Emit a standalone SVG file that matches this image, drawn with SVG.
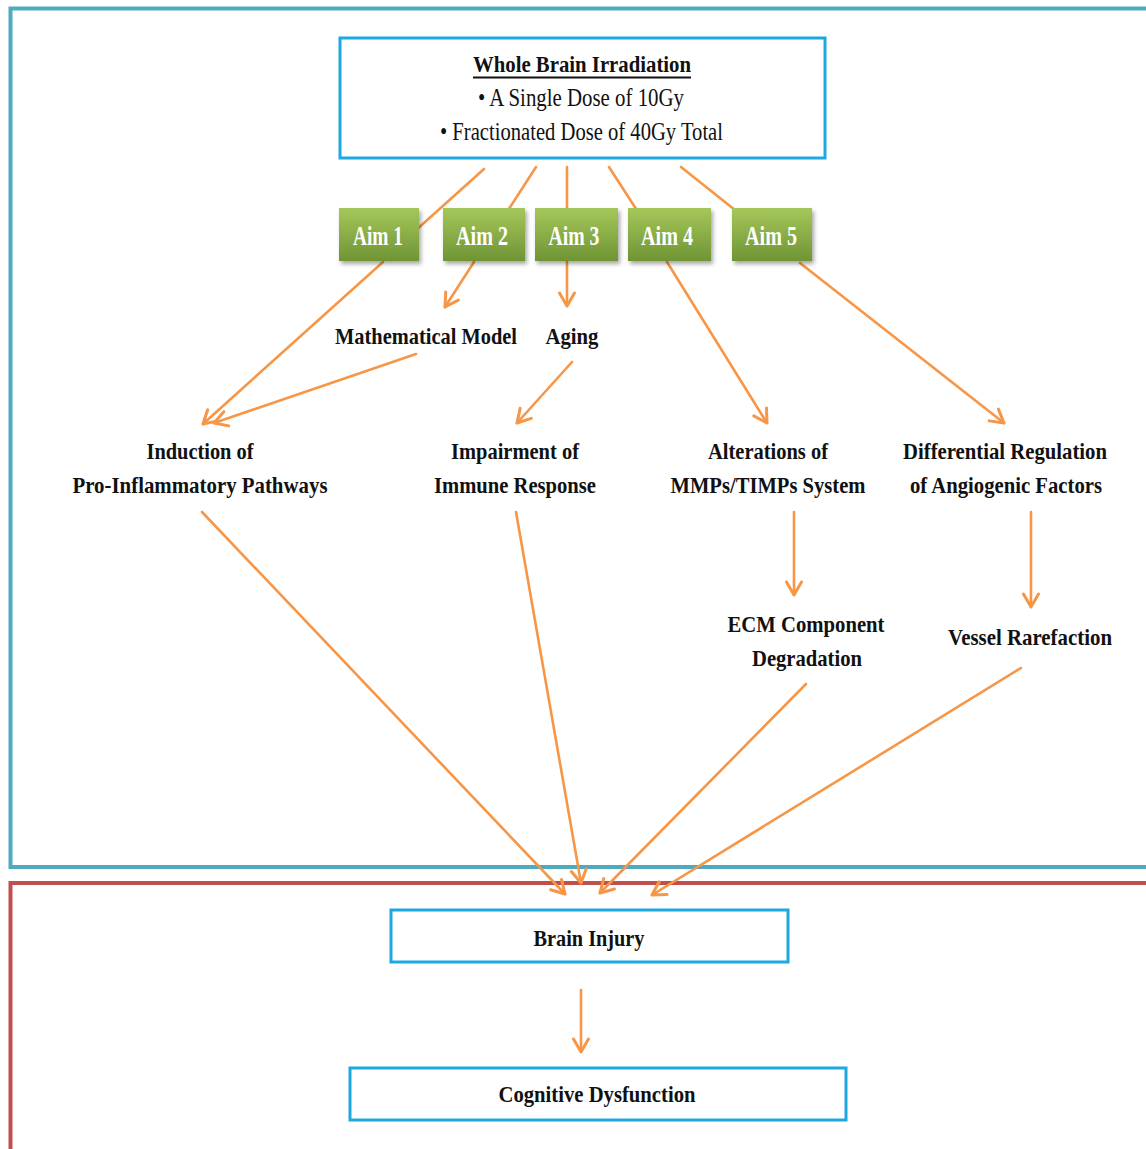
<svg xmlns="http://www.w3.org/2000/svg" width="1146" height="1149" viewBox="0 0 1146 1149">
<defs>
<linearGradient id="green" x1="0" y1="0" x2="0" y2="1">
<stop offset="0" stop-color="#a5c75a"/>
<stop offset="1" stop-color="#6f9434"/>
</linearGradient>
<filter id="sh" x="-20%" y="-20%" width="150%" height="160%">
<feDropShadow dx="2" dy="3" stdDeviation="2" flood-color="#000" flood-opacity="0.35"/>
</filter>
<marker id="ah" markerUnits="userSpaceOnUse" markerWidth="30" markerHeight="30" viewBox="-15 -15 30 30" refX="0" refY="0" orient="auto">
<path d="M-13,-7.5 L0,0 L-13,7.5" fill="none" stroke="#f79646" stroke-width="3" stroke-linecap="round" stroke-linejoin="round"/>
</marker>
<style>
.frame{fill:none;stroke-width:4}
.box{fill:#fff;stroke:#1da8e0;stroke-width:3}
.aim{fill:url(#green);filter:url(#sh)}
.t{font-family:"Liberation Serif","Times New Roman",serif;font-weight:bold;font-size:24px;fill:#111;text-anchor:middle}
.r{font-family:"Liberation Serif","Times New Roman",serif;font-size:25px;fill:#111;text-anchor:middle}
.at{font-family:"Liberation Serif","Times New Roman",serif;font-weight:bold;font-size:27px;fill:#fff;text-anchor:middle}
.c{stroke:#f79646;stroke-width:2.6;fill:none;stroke-linecap:round}
.a{marker-end:url(#ah)}
</style>
</defs>
<rect width="1146" height="1149" fill="#fff"/>
<g id="frames">
<path class="frame" d="M1150,8.5 L10.5,8.5 L10.5,867 L1150,867" stroke="#4fa9bf"/>
<path class="frame" d="M1150,883 L10.5,883 L10.5,1152" stroke="#c0504d"/>
</g>
<g id="connectors">
<line class="c" x1="484" y1="169" x2="405" y2="240"/>
<line class="c" x1="536" y1="167" x2="505" y2="215"/>
<line class="c" x1="567" y1="167" x2="567" y2="215"/>
<line class="c" x1="609" y1="167" x2="640" y2="215"/>
<line class="c" x1="681" y1="167" x2="740" y2="214"/>
<line class="c a" x1="383" y1="262" x2="203" y2="424"/>
<line class="c a" x1="474" y1="262" x2="445" y2="307"/>
<line class="c a" x1="567" y1="262" x2="567" y2="306"/>
<line class="c a" x1="667" y1="262" x2="767" y2="423"/>
<line class="c a" x1="800" y1="263" x2="1004" y2="423"/>
<line class="c a" x1="416" y1="354" x2="214" y2="423"/>
<line class="c a" x1="572" y1="362" x2="517" y2="423"/>
<line class="c a" x1="794" y1="512" x2="794" y2="595"/>
<line class="c a" x1="1031" y1="512" x2="1031" y2="607"/>
<line class="c a" x1="202" y1="512" x2="565" y2="894"/>
<line class="c a" x1="516" y1="512" x2="581" y2="883"/>
<line class="c a" x1="806" y1="684" x2="600" y2="893"/>
<line class="c a" x1="1021" y1="668" x2="652" y2="895"/>
<line class="c a" x1="581" y1="990" x2="581" y2="1052"/>
</g>
<g id="irradiation">
<rect class="box" x="340" y="38" width="485" height="120"/>
<text class="t" x="582" y="72" font-size="25" textLength="218" lengthAdjust="spacingAndGlyphs">Whole Brain Irradiation</text>
<line x1="473" y1="77.5" x2="691" y2="77.5" stroke="#111" stroke-width="2"/>
<text class="r" x="581" y="106" textLength="206" lengthAdjust="spacingAndGlyphs">• A Single Dose of 10Gy</text>
<text class="r" x="581.5" y="140" textLength="283" lengthAdjust="spacingAndGlyphs">• Fractionated Dose of 40Gy Total</text>
</g>
<g id="aim1"><rect class="aim" x="339" y="208" width="80" height="53"/><text class="at" x="378" y="245" textLength="50" lengthAdjust="spacingAndGlyphs">Aim 1</text></g>
<g id="aim2"><rect class="aim" x="443" y="208" width="82" height="53"/><text class="at" x="482" y="245" textLength="52" lengthAdjust="spacingAndGlyphs">Aim 2</text></g>
<g id="aim3"><rect class="aim" x="535" y="208" width="83" height="53"/><text class="at" x="574" y="245" textLength="51" lengthAdjust="spacingAndGlyphs">Aim 3</text></g>
<g id="aim4"><rect class="aim" x="628" y="208" width="83" height="53"/><text class="at" x="667" y="245" textLength="52" lengthAdjust="spacingAndGlyphs">Aim 4</text></g>
<g id="aim5"><rect class="aim" x="732" y="208" width="80" height="53"/><text class="at" x="771" y="245" textLength="52" lengthAdjust="spacingAndGlyphs">Aim 5</text></g>
<g id="mathmodel"><text class="t" x="426" y="344" textLength="182" lengthAdjust="spacingAndGlyphs">Mathematical Model</text></g>
<g id="aging"><text class="t" x="572" y="344" textLength="53" lengthAdjust="spacingAndGlyphs">Aging</text></g>
<g id="inflammatory">
<text class="t" x="200" y="459" textLength="107" lengthAdjust="spacingAndGlyphs">Induction of</text>
<text class="t" x="200" y="493" textLength="255" lengthAdjust="spacingAndGlyphs">Pro-Inflammatory Pathways</text>
</g>
<g id="immune">
<text class="t" x="515" y="459" textLength="128" lengthAdjust="spacingAndGlyphs">Impairment of</text>
<text class="t" x="515" y="493" textLength="162" lengthAdjust="spacingAndGlyphs">Immune Response</text>
</g>
<g id="mmps">
<text class="t" x="768" y="459" textLength="120" lengthAdjust="spacingAndGlyphs">Alterations of</text>
<text class="t" x="768" y="493" textLength="195" lengthAdjust="spacingAndGlyphs">MMPs/TIMPs System</text>
</g>
<g id="angiogenic">
<text class="t" x="1005" y="459" textLength="204" lengthAdjust="spacingAndGlyphs">Differential Regulation</text>
<text class="t" x="1006" y="493" textLength="192" lengthAdjust="spacingAndGlyphs">of Angiogenic Factors</text>
</g>
<g id="ecm">
<text class="t" x="806" y="632" textLength="157" lengthAdjust="spacingAndGlyphs">ECM Component</text>
<text class="t" x="807" y="666" textLength="110" lengthAdjust="spacingAndGlyphs">Degradation</text>
</g>
<g id="vessel"><text class="t" x="1030" y="645" textLength="164" lengthAdjust="spacingAndGlyphs">Vessel Rarefaction</text></g>
<g id="braininjury">
<rect class="box" x="391" y="910" width="397" height="52"/>
<text class="t" x="589" y="946" textLength="111" lengthAdjust="spacingAndGlyphs">Brain Injury</text>
</g>
<g id="cognitive">
<rect class="box" x="350" y="1068" width="496" height="52"/>
<text class="t" x="597" y="1102" textLength="197" lengthAdjust="spacingAndGlyphs">Cognitive Dysfunction</text>
</g>
</svg>
